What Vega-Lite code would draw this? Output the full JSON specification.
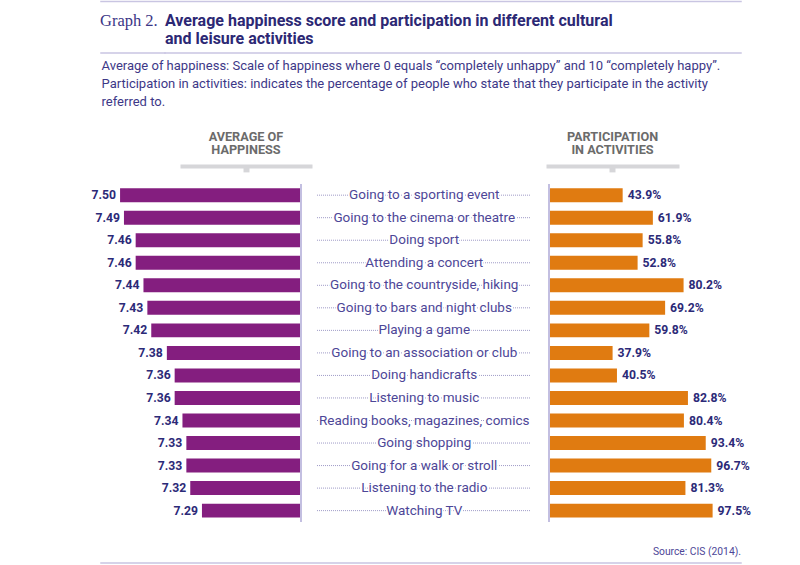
{
  "$schema": "https://vega.github.io/schema/vega-lite/v6.json",
  "background": "white",
  "padding": {"left": 91, "top": 0.5, "right": 10, "bottom": 2},
  "datasets": {
    "acts": [
      {"activity": "Going to a sporting event", "happiness": 7.50, "participation": 0.439},
      {"activity": "Going to the cinema or theatre", "happiness": 7.49, "participation": 0.619},
      {"activity": "Doing sport", "happiness": 7.46, "participation": 0.558},
      {"activity": "Attending a concert", "happiness": 7.46, "participation": 0.528},
      {"activity": "Going to the countryside, hiking", "happiness": 7.44, "participation": 0.802},
      {"activity": "Going to bars and night clubs", "happiness": 7.43, "participation": 0.692},
      {"activity": "Playing a game", "happiness": 7.42, "participation": 0.598},
      {"activity": "Going to an association or club", "happiness": 7.38, "participation": 0.379},
      {"activity": "Doing handicrafts", "happiness": 7.36, "participation": 0.405},
      {"activity": "Listening to music", "happiness": 7.36, "participation": 0.828},
      {"activity": "Reading books, magazines, comics", "happiness": 7.34, "participation": 0.804},
      {"activity": "Going shopping", "happiness": 7.33, "participation": 0.934},
      {"activity": "Going for a walk or stroll", "happiness": 7.33, "participation": 0.967},
      {"activity": "Listening to the radio", "happiness": 7.32, "participation": 0.813},
      {"activity": "Watching TV", "happiness": 7.29, "participation": 0.975}
    ]
  },
  "config": {
    "font": "Roboto",
    "view": {"stroke": null},
    "title": {"font": "Roboto"}
  },
  "spacing": 8.5,
  "vconcat": [
    {
      "data": {"values": []},
      "mark": "point",
      "width": 640,
      "height": 0.01,
      "view": {"stroke": "#c9c5e2", "strokeWidth": 1.5}
    },
    {
      "spacing": 4.9,
      "vconcat": [
        {
          "spacing": 0,
          "bounds": "flush",
          "hconcat": [
            {
              "data": {"values": []},
              "mark": "point",
              "width": 64,
              "height": 0.01,
              "view": {"stroke": "#c9c5e2", "strokeWidth": 1.5},
              "title": {
                "text": ["Graph 2.", " "],
                "font": "Liberation Serif",
                "fontSize": 16.5,
                "fontWeight": "normal",
                "color": "#3b3686",
                "anchor": "start",
                "dx": -1,
                "lineHeight": 18,
                "offset": 6
              }
            },
            {
              "data": {"values": []},
              "mark": "point",
              "width": 576,
              "height": 0.01,
              "view": {"stroke": "#c9c5e2", "strokeWidth": 1.5},
              "title": {
                "text": ["Average happiness score and participation in different cultural", "and leisure activities"],
                "fontSize": 16,
                "fontWeight": "bold",
                "color": "#2c2874",
                "anchor": "start",
                "dx": 0,
                "lineHeight": 18,
                "offset": 6
              }
            }
          ]
        },
        {
          "spacing": 22,
          "vconcat": [
            {
              "title": {
                "text": [
                  "Average of happiness: Scale of happiness where 0 equals “completely unhappy” and 10 “completely happy”.",
                  "Participation in activities: indicates the percentage of people who state that they participate in the activity",
                  "referred to."
                ],
                "fontSize": 13,
                "fontWeight": "normal",
                "color": "#3d3887",
                "anchor": "start",
                "dx": 10,
                "lineHeight": 18,
                "offset": 22
              },
              "spacing": 0,
              "bounds": "flush",
              "hconcat": [
                {
                  "width": 200,
                  "height": 338,
                  "data": {"name": "acts"},
                  "title": {
                    "text": ["AVERAGE OF", "HAPPINESS"],
                    "fontSize": 12.7,
                    "fontWeight": "bold",
                    "color": "#6b6b6b",
                    "anchor": "middle",
                    "dx": 45,
                    "lineHeight": 13.5,
                    "offset": 6
                  },
                  "encoding": {
                    "y": {
                      "field": "activity",
                      "type": "nominal",
                      "sort": null,
                      "axis": null,
                      "scale": {"paddingInner": 0.38, "paddingOuter": 0.19}
                    },
                    "x": {
                      "field": "happiness",
                      "type": "quantitative",
                      "scale": {"domain": [7.0078, 7.3463], "range": [211, 79], "nice": false, "zero": false},
                      "axis": {
                        "orient": "top",
                        "offset": 18,
                        "domain": true,
                        "domainColor": "#d6d6d9",
                        "domainWidth": 4,
                        "labels": false,
                        "ticks": true,
                        "values": [7.177],
                        "tickSize": -6,
                        "tickWidth": 6,
                        "tickColor": "#d6d6d9",
                        "grid": false,
                        "title": null
                      }
                    }
                  },
                  "layer": [
                    {
                      "mark": {"type": "bar", "color": "#841e7f"},
                      "encoding": {"x2": {"datum": 7.036}}
                    },
                    {
                      "mark": {"type": "text", "align": "right", "baseline": "middle", "dx": -4, "fontSize": 12.2, "fontWeight": "bold", "color": "#2c2a78"},
                      "encoding": {"text": {"field": "happiness", "type": "quantitative", "format": ".2f"}}
                    },
                    {
                      "mark": {"type": "rule", "color": "#c3bfe0", "strokeWidth": 1.5},
                      "encoding": {"x": {"datum": 7.036}, "y": null}
                    }
                  ]
                },
                {
                  "width": 248,
                  "height": 338,
                  "data": {"name": "acts"},
                  "encoding": {
                    "y": {
                      "field": "activity",
                      "type": "nominal",
                      "sort": null,
                      "axis": null,
                      "scale": {"paddingInner": 0.38, "paddingOuter": 0.19}
                    }
                  },
                  "layer": [
                    {
                      "mark": {"type": "rule", "color": "#9e9ac6", "strokeDash": [1, 1], "strokeWidth": 1},
                      "encoding": {
                        "x": {"datum": 0.0645, "type": "quantitative", "scale": {"domain": [0, 1], "nice": false, "zero": false}, "axis": null},
                        "x2": {"datum": 0.927}
                      }
                    },
                    {
                      "mark": {"type": "text", "fontSize": 13.5, "color": "white", "stroke": "white", "strokeWidth": 3, "baseline": "middle"},
                      "encoding": {"x": {"datum": 0.497, "type": "quantitative"}, "text": {"field": "activity"}}
                    },
                    {
                      "mark": {"type": "text", "fontSize": 13.5, "color": "#4d4697", "baseline": "middle"},
                      "encoding": {"x": {"datum": 0.497, "type": "quantitative"}, "text": {"field": "activity"}}
                    }
                  ]
                },
                {
                  "width": 192,
                  "height": 338,
                  "data": {"name": "acts"},
                  "title": {
                    "text": ["PARTICIPATION", "IN ACTIVITIES"],
                    "fontSize": 12.7,
                    "fontWeight": "bold",
                    "color": "#6b6b6b",
                    "anchor": "middle",
                    "dx": -32.5,
                    "lineHeight": 13.5,
                    "offset": 6
                  },
                  "encoding": {
                    "y": {
                      "field": "activity",
                      "type": "nominal",
                      "sort": null,
                      "axis": null,
                      "scale": {"paddingInner": 0.38, "paddingOuter": 0.19}
                    },
                    "x": {
                      "field": "participation",
                      "type": "quantitative",
                      "scale": {"domain": [-0.01788, 0.7747], "range": [-3, 130], "nice": false, "zero": false},
                      "axis": {
                        "orient": "top",
                        "offset": 18,
                        "domain": true,
                        "domainColor": "#d6d6d9",
                        "domainWidth": 4,
                        "labels": false,
                        "ticks": true,
                        "values": [0.3784],
                        "tickSize": -6,
                        "tickWidth": 6,
                        "tickColor": "#d6d6d9",
                        "grid": false,
                        "title": null
                      }
                    }
                  },
                  "layer": [
                    {
                      "mark": {"type": "bar", "color": "#e07b11"},
                      "encoding": {"x2": {"datum": 0}}
                    },
                    {
                      "mark": {"type": "text", "align": "left", "baseline": "middle", "dx": 5, "fontSize": 12.2, "fontWeight": "bold", "color": "#2c2a78"},
                      "encoding": {"text": {"field": "participation", "type": "quantitative", "format": ".1%"}}
                    },
                    {
                      "mark": {"type": "rule", "color": "#c3bfe0", "strokeWidth": 1.5},
                      "encoding": {"x": {"datum": 0}, "y": null}
                    }
                  ]
                }
              ]
            },
            {
              "data": {"values": []},
              "mark": "point",
              "width": 640,
              "height": 0.01,
              "view": {"stroke": "#c9c5e2", "strokeWidth": 1.5},
              "title": {
                "text": "Source: CIS (2014).",
                "fontSize": 10.3,
                "fontWeight": "normal",
                "color": "#4d4697",
                "anchor": "end",
                "offset": 6
              }
            }
          ]
        }
      ]
    }
  ]
}
